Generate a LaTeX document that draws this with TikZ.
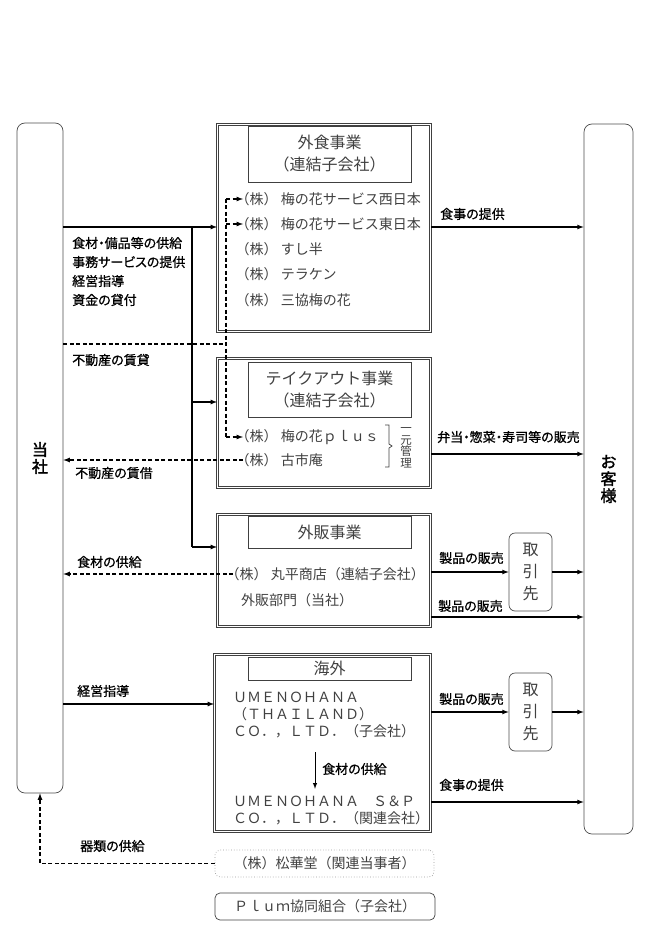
\documentclass[tikz,border=0pt]{standalone}
\usepackage{fontspec}
\setmainfont{Noto Sans CJK JP}
\newfontfamily\jpbold[FakeBold=2]{Noto Sans CJK JP}
\newfontfamily\jpprop[RawFeature=+palt,FakeBold=0.8]{Noto Sans CJK JP}
\newcommand{\kabu}{\hspace*{-.55em}（株）\hspace{.25em}}
\begin{document}
\begin{tikzpicture}[x=1pt,y=-1pt,
	biz/.style={draw=black!75,double=white,double distance=1pt,line width=0.9pt,inner sep=0pt},
	ttl/.style={draw=black!75,line width=0.7pt,text=black!75,align=center,inner sep=0pt,minimum width=163pt,font=\fontsize{16}{22}\selectfont},
	co/.style={anchor=west,inner sep=0pt,text=black!75,align=left,font=\fontsize{14}{17}\selectfont},
	lbl/.style={anchor=west,inner sep=0pt,align=left,font=\jpprop\fontsize{13}{19}\selectfont},
	side/.style={draw=black!70,rounded corners=8pt,line width=0.7pt,align=center,inner sep=0pt,font=\jpbold\fontsize{16}{17}\selectfont},
	tori/.style={draw=black!70,rounded corners=6pt,line width=0.7pt,align=center,inner sep=0pt,text=black!75,minimum width=43pt,minimum height=78pt,font=\fontsize{16}{22}\selectfont},
	arr/.style={-latex,line width=1.2pt},
	dashline/.style={line width=1.2pt,dash pattern=on 4pt off 2.5pt},
	dasharr/.style={-latex,line width=1.2pt,dash pattern=on 4pt off 2.5pt}]
		\useasboundingbox (0,0) rectangle (651,941);
		\node[side,minimum width=46pt,minimum height=670pt] (tosha) at (40,458) {当\\社};
		\node[side,minimum width=49pt,minimum height=710pt] (kyaku) at (608.5,479) {お\\客\\様};

		\node[biz,minimum width=213pt,minimum height=207pt] (gaishoku) at (324,228) {};
		\node[ttl,minimum height=56pt] (gtitle) at (329.5,154) {外食事業\\（連結子会社）};
		\node[co] (nishi) at (243,199) {\kabu 梅の花サービス西日本};
		\node[co] (higashi) at (243,224) {\kabu 梅の花サービス東日本};
		\node[co] (sushihan) at (243,249) {\kabu すし半};
		\node[co] (teraken) at (243,274) {\kabu テラケン};
		\node[co] (sankyo) at (243,300) {\kabu 三協梅の花};

		\node[biz,minimum width=213pt,minimum height=129pt] (takeout) at (324,423) {};
		\node[ttl,minimum height=55pt] (ttitle) at (329.5,389.5) {テイクアウト事業\\（連結子会社）};
		\node[co] (plus) at (243,437) {\kabu 梅の花ｐｌｕｓ};
		\node[co] (furuichi) at (243,460) {\kabu 古市庵};
		\draw[black!75,line width=0.7pt] (385,425) -- (389,425) -- (389,444) -- (392,446) -- (389,448) -- (389,467) -- (385,467);
		\node[co,anchor=center,align=center,font=\fontsize{11.5}{11.5}\selectfont] (ichigen) at (406,448) {一\\元\\管\\理};

		\node[biz,minimum width=213pt,minimum height=112pt] (gaihan) at (324,570.5) {};
		\node[ttl,minimum height=32pt] (htitle) at (329.5,532) {外販事業};
		\node[co] (marudaira) at (233,574) {\kabu 丸平商店（連結子会社）};
		\node[co] (bumon) at (241,600) {外販部門（当社）};

		\node[biz,minimum width=216pt,minimum height=177pt] (kaigai) at (322.5,743) {};
		\node[ttl,minimum height=23pt] (ktitle) at (329.5,668.5) {海外};
		\node[co] (thai) at (233,715) {ＵＭＥＮＯＨＡＮＡ\\（ＴＨＡＩＬＡＮＤ）\\ＣＯ．，ＬＴＤ．（子会社）};
		\node[co] (snp) at (233,810.5) {ＵＭＥＮＯＨＡＮＡ　Ｓ＆Ｐ\\ＣＯ．，ＬＴＤ．（関連会社）};
		\coordinate (kx) at (315,0);
		\draw[arr,line width=1pt,shorten <=14pt,shorten >=7pt] (thai.south -| kx) -- (snp.north -| kx);
		\node[lbl] (kyokyu2) at (322,769) {食材の供給};

		\node[draw=black!40,dotted,rounded corners=5pt,line width=0.7pt,minimum width=219pt,minimum height=27pt,inner sep=0pt,text=black!75,font=\fontsize{14}{14}\selectfont] (shokado) at (324.5,863.5) {（株）松華堂（関連当事者）};
		\node[draw=black!75,rounded corners=5pt,line width=0.7pt,minimum width=220pt,minimum height=27pt,inner sep=0pt,text=black!75,font=\fontsize{14}{14}\selectfont] (plum) at (325,906.5) {Ｐｌｕｍ協同組合（子会社）};

		\node[tori] (tori1) at (530.5,572) {取\\引\\先};
		\node[tori] (tori2) at (530.5,712) {取\\引\\先};

		\coordinate (b1) at (192,227);
		\coordinate (b2) at (192,402);
		\coordinate (b3) at (192,547);
		\draw[arr] (tosha.east |- b1) -- (gaishoku.west |- b1);
		\draw[line width=1.2pt] (b1) -- (b3);
		\draw[arr] (b2) -- (takeout.west |- b2);
		\draw[arr] (b3) -- (gaihan.west |- b3);
		\node[lbl] (supply) at (72,271.5) {食材・備品等の供給\\事務サービスの提供\\経営指導\\資金の貸付};

		\coordinate (d0) at (226,344);
		\draw[dashline] (tosha.east |- d0) -- (d0);
		\draw[dashline] (nishi.west -| d0) -- (plus.west -| d0);
		\draw[dasharr] (nishi.west -| d0) -- (nishi.west);
		\draw[dasharr] (higashi.west -| d0) -- (higashi.west);
		\draw[dasharr] (plus.west -| d0) -- (plus.west);
		\node[lbl] (chintai) at (72,360) {不動産の賃貸};
		\draw[dasharr] (furuichi.west) -- (furuichi.west -| tosha.east);
		\node[lbl] (chinshaku) at (75,473) {不動産の賃借};
		\draw[dasharr] (marudaira.west) -- (marudaira.west -| tosha.east);
		\node[lbl] (kyokyu1) at (77,562) {食材の供給};
		\coordinate (k1) at (0,704);
		\draw[arr] (tosha.east |- k1) -- (kaigai.west |- k1);
		\node[lbl] (shido) at (77,691) {経営指導};
		\draw[dasharr] (shokado.west) -| (tosha.south);
		\node[lbl] (kirui) at (80,846) {器類の供給};

		\coordinate (r1) at (0,227);
		\coordinate (r2) at (0,454);
		\coordinate (r3) at (0,617);
		\coordinate (r4) at (0,802);
		\draw[arr] (gaishoku.east |- r1) -- (kyaku.west |- r1);
		\node[lbl] (meal1) at (440,214) {食事の提供};
		\draw[arr] (takeout.east |- r2) -- (kyaku.west |- r2);
		\node[lbl] (bento) at (437,437) {弁当・惣菜・寿司等の販売};
		\draw[arr] (gaihan.east |- tori1) -- (tori1);
		\draw[arr] (tori1) -- (kyaku.west |- tori1);
		\node[lbl] (sales1) at (439,558) {製品の販売};
		\draw[arr] (gaihan.east |- r3) -- (kyaku.west |- r3);
		\node[lbl] (sales2) at (438,606) {製品の販売};
		\draw[arr] (kaigai.east |- tori2) -- (tori2);
		\draw[arr] (tori2) -- (kyaku.west |- tori2);
		\node[lbl] (sales3) at (439,699) {製品の販売};
		\draw[arr] (kaigai.east |- r4) -- (kyaku.west |- r4);
		\node[lbl] (meal2) at (439,785) {食事の提供};
\end{tikzpicture}
\end{document}
